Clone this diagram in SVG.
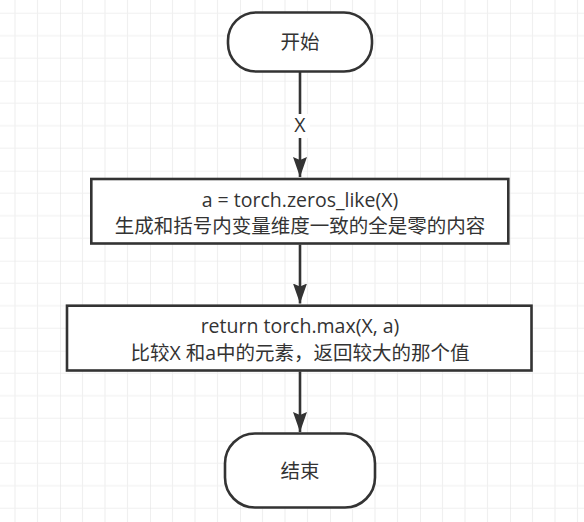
<svg xmlns="http://www.w3.org/2000/svg" width="584" height="522" viewBox="0 0 584 522">
  <defs>
    <pattern id="grid" x="-30" y="-9.3" width="90" height="90" patternUnits="userSpaceOnUse">
      <path d="M22.5 0V90M45 0V90M67.5 0V90M0 22.5H90M0 45H90M0 67.5H90" stroke="#f0f0f0" stroke-width="1.2" fill="none"/>
      <path d="M0 0V90M0 0H90" stroke="#e4e4e4" stroke-width="1.2" fill="none"/>
    </pattern>
    <marker id="arrow" viewBox="0 0 20 14" refX="20" refY="7" markerWidth="20" markerHeight="14" markerUnits="userSpaceOnUse" orient="auto">
      <path d="M0,0 L20,7 L0,14 L3,7 z" fill="#333333"/>
    </marker>
    <style>
      .shape { fill: #ffffff; stroke: #333333; stroke-width: 2.6; }
      .txt { font-family: "Open Sans", "Noto Sans CJK SC", sans-serif; font-size: 19.5px; fill: #333333; text-anchor: middle; }
      .edge { stroke: #333333; stroke-width: 2.6; fill: none; marker-end: url(#arrow); }
    </style>
  </defs>
  <rect width="584" height="522" fill="#ffffff"/>
  <rect width="584" height="522" fill="url(#grid)"/>

  <g id="connectors">
    <path class="edge" d="M300 72 V177"/>
    <rect x="290" y="114" width="20" height="24" fill="#ffffff"/>
    <text class="txt" x="300" y="132">X</text>
    <path class="edge" d="M300 244.5 V303.5"/>
    <path class="edge" d="M300 371.5 V432"/>
  </g>

  <g id="start">
    <rect class="shape" x="228" y="12.5" width="144" height="59" rx="28" ry="28"/>
    <text class="txt" x="300" y="49">开始</text>
  </g>

  <g id="step1">
    <rect class="shape" x="91.3" y="179" width="417" height="64.5"/>
    <text class="txt" x="300" y="206.5">a = torch.zeros_like(X)</text>
    <text class="txt" x="300" y="233">生成和括号内变量维度一致的全是零的内容</text>
  </g>

  <g id="step2">
    <rect class="shape" x="67" y="305.7" width="464.5" height="64.8"/>
    <text class="txt" x="300" y="333">return torch.max(X, a)</text>
    <text class="txt" x="300" y="359.5">比较X 和a中的元素，返回较大的那个值</text>
  </g>

  <g id="end">
    <rect class="shape" x="225" y="433.5" width="150" height="74" rx="30" ry="30"/>
    <text class="txt" x="300" y="477.5">结束</text>
  </g>
</svg>
